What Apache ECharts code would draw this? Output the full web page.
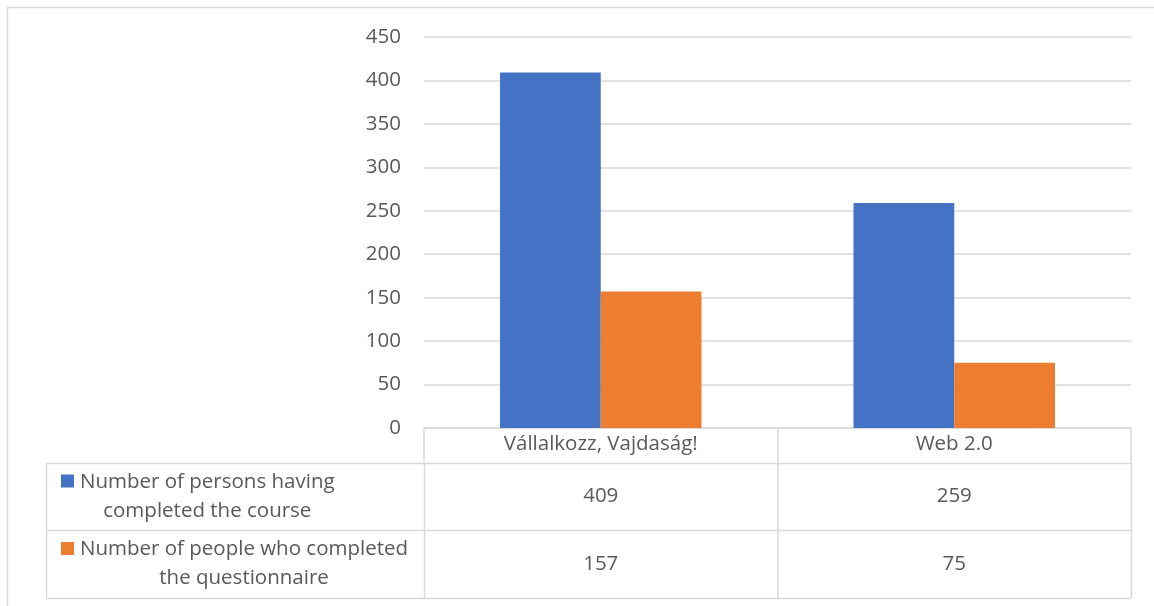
<!DOCTYPE html>
<html>
<head>
<meta charset="utf-8">
<script src="https://cdn.jsdelivr.net/npm/echarts@6/dist/echarts.min.js"></script>
<style>
  html, body { margin: 0; padding: 0; background: #fff; }
  #chart { width: 1154px; height: 606px; }
</style>
</head>
<body>
<div id="chart"></div>
<script>
const categories = ['Vállalkozz, Vajdaság!', 'Web 2.0'];
const seriesNames = [
    ['Number of persons having', 'completed the course'],
    ['Number of people who completed', 'the questionnaire']
];
const courseDone = [409, 259];
const questionnaireDone = [157, 75];
const yTicks = [0, 50, 100, 150, 200, 250, 300, 350, 400, 450];

const colors = ['#4472C4', '#ED7D31'];
const textColor = '#595959';
const lineColor = '#d9d9d9';
const font = '"Open Sans", Lato, sans-serif';
const fontSize = 20.5;

// layout
const plotLeft = 424, plotRight = 1131, plotTop = 37, plotBottom = 428;
const headerBottom = 463;
const rowBottoms = [530, 598];
const tableLeft = 46;

const chart = echarts.init(document.getElementById('chart'), null, { renderer: 'canvas' });

const ctx = document.createElement('canvas').getContext('2d');
ctx.font = fontSize + 'px ' + font;

const allValues = [courseDone, questionnaireDone];
let graphics = [];

// outer chart border
graphics.push({
    type: 'rect', shape: { x: 7.5, y: 7.5, width: 1200, height: 700 },
    style: { fill: null, stroke: lineColor, lineWidth: 1.5 }, silent: true
});

// table lines
let catW = (plotRight - plotLeft) / categories.length;
[headerBottom].concat(rowBottoms).forEach(y => {
    graphics.push({
        type: 'line', shape: { x1: tableLeft, y1: y + 0.5, x2: plotRight, y2: y + 0.5 },
        style: { stroke: lineColor, lineWidth: 1.5 }, silent: true
    });
});
let vx = [tableLeft];
for (let i = 0; i <= categories.length; i++) vx.push(plotLeft + catW * i);
vx.forEach(x => {
    graphics.push({
        type: 'line', shape: { x1: x + 0.5, y1: headerBottom, x2: x + 0.5, y2: rowBottoms[rowBottoms.length - 1] },
        style: { stroke: lineColor, lineWidth: 1.5 }, silent: true
    });
});

// row labels + values
let rowTop = headerBottom;
seriesNames.forEach((name, r) => {
    let rowBottom = rowBottoms[r];
    let cy = (rowTop + rowBottom) / 2;
    let keyX = 61, textX = 80;
    let w1 = ctx.measureText(name[0]).width;
    graphics.push({
        type: 'rect', shape: { x: keyX, y: cy - 22, width: 13, height: 13 },
        style: { fill: colors[r] }, silent: true
    });
    graphics.push({
        type: 'text', x: textX + w1 / 2, y: cy,
        style: {
            text: name.join('\n'), fill: textColor, font: fontSize + 'px ' + font,
            align: 'center', verticalAlign: 'middle', lineHeight: 29
        }, silent: true
    });
    allValues[r].forEach((v, c) => {
        graphics.push({
            type: 'text', x: plotLeft + catW * (c + 0.5), y: cy,
            style: {
                text: String(v), fill: textColor, font: fontSize + 'px ' + font,
                align: 'center', verticalAlign: 'middle'
            }, silent: true
        });
    });
    rowTop = rowBottom;
});

chart.setOption({
    animation: false,
    grid: {
        left: plotLeft,
        right: 1154 - plotRight,
        top: plotTop,
        bottom: 606 - plotBottom
    },
    xAxis: {
        type: 'category',
        data: categories,
        axisLine: { show: true, lineStyle: { color: lineColor, width: 1.5 } },
        axisTick: { show: true, length: headerBottom - plotBottom, lineStyle: { color: lineColor, width: 1.5 } },
        axisLabel: { color: textColor, fontSize: fontSize, fontFamily: font, margin: 6 }
    },
    yAxis: {
        type: 'value',
        min: yTicks[0],
        max: yTicks[yTicks.length - 1],
        interval: 50,
        axisLine: { show: false },
        axisTick: { show: false },
        axisLabel: { color: textColor, fontSize: fontSize, fontFamily: font, margin: 23 },
        splitLine: { show: true, lineStyle: { color: lineColor, width: 1.5 } }
    },
    series: [
        {
            name: seriesNames[0].join(' '), type: 'bar', data: courseDone,
            itemStyle: { color: colors[0] }, barGap: '0%', barCategoryGap: '43%'
        },
        {
            name: seriesNames[1].join(' '), type: 'bar', data: questionnaireDone,
            itemStyle: { color: colors[1] }, barGap: '0%', barCategoryGap: '43%'
        }
    ],
    graphic: graphics
});
</script>
</body>
</html>
